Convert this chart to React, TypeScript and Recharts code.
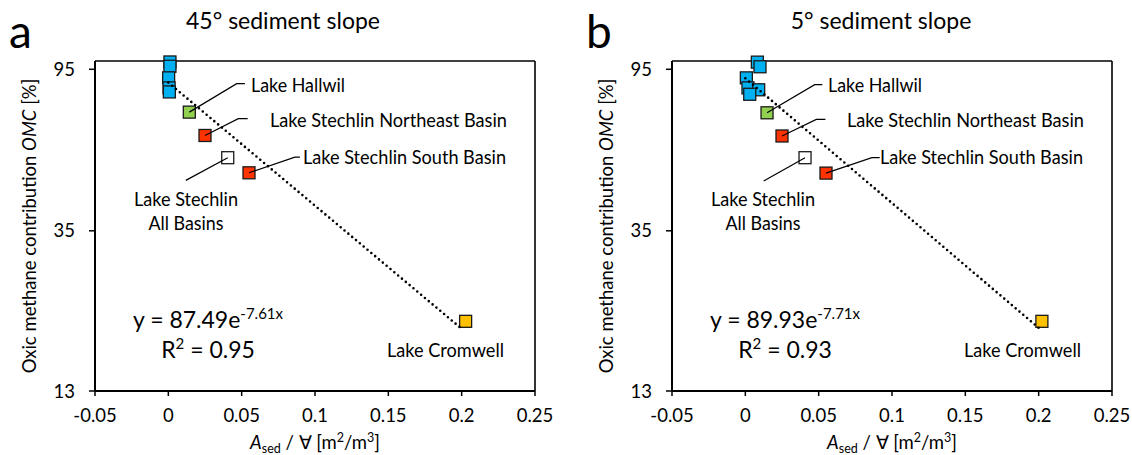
import { ScatterChart, Scatter, XAxis, YAxis, ReferenceLine } from "recharts";

const xTicks = [-0.05, 0, 0.05, 0.1, 0.15, 0.2, 0.25];
const yTicks = [13, 35, 95];

// panel a: 45° sediment slope
const aBlueX = [0.0011, 0.0011, 0.0002, 0.0005, 0.0007];
const aBlueY = [99.4, 96.8, 90.1, 84.7, 82.6];
const aGreenX = [0.0143];
const aGreenY = [72.9];
const aRedX = [0.025, 0.055];
const aRedY = [63.1, 50.1];
const aWhiteX = [0.0405];
const aWhiteY = [55.0];
const aYellowX = [0.2027];
const aYellowY = [20.0];
const aTrendX = [0, 0.2];
const aTrendY = [87.5, 19.1];

// panel b: 5° sediment slope
const bBlueX = [0.0082, 0.01, 0.0007, 0.0018, 0.0091, 0.003];
const bBlueY = [99.3, 96.5, 90.1, 84.7, 83.7, 81.4];
const bGreenX = [0.0148];
const bGreenY = [72.6];
const bRedX = [0.025, 0.055];
const bRedY = [62.9, 50.0];
const bWhiteX = [0.0407];
const bWhiteY = [55.0];
const bYellowX = [0.2022];
const bYellowY = [20.0];
const bTrendX = [0, 0.2];
const bTrendY = [89.9, 19.2];

// leader lines for the lake labels
const aLeaders = [
  { x: [0.0143, 0.0466, 0.0522], y: [72.9, 86.9, 86.9] },
  { x: [0.025, 0.0477, 0.0541], y: [63.1, 70.0, 70.0] },
  { x: [0.055, 0.0863, 0.0897], y: [50.1, 55.2, 55.2] },
  { x: [0.0405, 0.0119], y: [55.0, 47.8] },
];
const bLeaders = [
  { x: [0.0148, 0.0473, 0.0525], y: [72.6, 86.4, 86.4] },
  { x: [0.025, 0.0484, 0.0546], y: [62.9, 69.7, 69.7] },
  { x: [0.055, 0.0863, 0.0916], y: [50.0, 55.0, 55.0] },
  { x: [0.0407, 0.0125], y: [55.0, 47.6] },
];

const zip = (xs: number[], ys: number[]) => xs.map((x, i) => ({ x, y: ys[i] }));

const FONT = "Lato, 'Open Sans', sans-serif";

const square = (fill: string) => (p: any) => (
  <rect x={p.cx - 6} y={p.cy - 6} width={12} height={12} fill={fill} stroke="#1a1a1a" strokeWidth={1.3} />
);

const noShape = () => <g />;

type PanelProps = {
  left: number;
  letter: string;
  title: string;
  titleX: number;
  coef: string;
  expo: string;
  r2: string;
  series: { color: string; xs: number[]; ys: number[] }[];
  trend: { xs: number[]; ys: number[] };
  leaders: { x: number[]; y: number[] }[];
};

const Panel = ({ left, letter, title, titleX, coef, expo, r2, series, trend, leaders }: PanelProps) => (
  <div style={{ position: "absolute", left, top: 0, width: 566, height: 455 }}>
    <ScatterChart width={566} height={455} margin={{ top: 61, right: 31, bottom: 24, left: 0 }}>
      <XAxis
        type="number"
        dataKey="x"
        domain={[-0.05, 0.25]}
        ticks={xTicks}
        height={40}
        tickSize={5}
        tickMargin={13}
        axisLine={{ stroke: "#000", strokeWidth: 2 }}
        tickLine={{ stroke: "#000", strokeWidth: 1.5 }}
        tick={{ fontSize: 18.5, fill: "#000", fontFamily: FONT }}
      />
      <YAxis
        type="number"
        dataKey="y"
        scale="log"
        domain={[13, 100]}
        ticks={yTicks}
        width={95}
        tickSize={6}
        tickMargin={14}
        axisLine={{ stroke: "#000", strokeWidth: 2 }}
        tickLine={{ stroke: "#000", strokeWidth: 1.5 }}
        tick={{ fontSize: 18.5, fill: "#000", fontFamily: FONT }}
      />
      <ReferenceLine y={100} stroke="#000" strokeWidth={1.6} />
      <ReferenceLine x={0.25} stroke="#000" strokeWidth={1.6} />
      {series.map((s, i) => (
        <Scatter key={i} data={zip(s.xs, s.ys)} shape={square(s.color)} isAnimationActive={false} />
      ))}
      {leaders.map((l, i) => (
        <Scatter
          key={"l" + i}
          data={zip(l.x, l.y)}
          line={{ stroke: "#000", strokeWidth: 1.2 }}
          shape={noShape}
          isAnimationActive={false}
        />
      ))}
      <Scatter
        data={zip(trend.xs, trend.ys)}
        line={{ stroke: "#000", strokeWidth: 2.6, strokeDasharray: "0 5", strokeLinecap: "round" }}
        shape={noShape}
        isAnimationActive={false}
      />
    </ScatterChart>
    <svg
      width={566}
      height={455}
      style={{ position: "absolute", left: 0, top: 0, pointerEvents: "none", fontFamily: FONT }}
    >
      <text x={9} y={48} fontSize={46} fill="#000">{letter}</text>
      <text x={titleX} y={29} fontSize={23} textAnchor="middle" fill="#000">{title}</text>
      <g fontSize={18.5} fill="#000">
        <text x={251} y={92} textLength={94} lengthAdjust="spacingAndGlyphs">Lake Hallwil</text>
        <text x={270} y={126.5} textLength={237} lengthAdjust="spacingAndGlyphs">Lake Stechlin Northeast Basin</text>
        <text x={303} y={164} textLength={203} lengthAdjust="spacingAndGlyphs">Lake Stechlin South Basin</text>
        <text x={134} y={205.5} textLength={104} lengthAdjust="spacingAndGlyphs">Lake Stechlin</text>
        <text x={148.5} y={230} textLength={75} lengthAdjust="spacingAndGlyphs">All Basins</text>
        <text x={387} y={357} textLength={117} lengthAdjust="spacingAndGlyphs">Lake Cromwell</text>
      </g>
      <text x={208} y={328} fontSize={23} textAnchor="middle" fill="#000">
        {"y = " + coef + "e"}
        <tspan fontSize={15} dy={-9}>{expo}</tspan>
      </text>
      <text x={208} y={358} fontSize={23} textAnchor="middle" fill="#000">
        R<tspan fontSize={15} dy={-9}>2</tspan>
        <tspan dy={9}>{" = " + r2}</tspan>
      </text>
      <text x={315} y={449} fontSize={18.5} textAnchor="middle" fill="#000">
        <tspan fontStyle="italic">A</tspan>
        <tspan fontSize={12.5} dy={4}>sed</tspan>
        <tspan dy={-4}>{" / \u2200 [m"}</tspan>
        <tspan fontSize={12.5} dy={-7}>2</tspan>
        <tspan dy={7}>/m</tspan>
        <tspan fontSize={12.5} dy={-7}>3</tspan>
        <tspan dy={7}>]</tspan>
      </text>
      <text transform="rotate(-90)" x={-226} y={36} fontSize={18.5} textAnchor="middle" fill="#000">
        Oxic methane contribution <tspan fontStyle="italic">OMC</tspan> [%]
      </text>
    </svg>
  </div>
);

export default function App() {
  return (
    <div style={{ position: "absolute", left: 0, top: 0, width: 1132, height: 455, background: "#fff" }}>
      <Panel
        left={0}
        letter="a"
        title="45° sediment slope"
        titleX={283}
        coef="87.49"
        expo="-7.61x"
        r2="0.95"
        series={[
          { color: "#00B0F0", xs: aBlueX, ys: aBlueY },
          { color: "#92D050", xs: aGreenX, ys: aGreenY },
          { color: "#FF3300", xs: aRedX, ys: aRedY },
          { color: "#FFFFFF", xs: aWhiteX, ys: aWhiteY },
          { color: "#FFC000", xs: aYellowX, ys: aYellowY },
        ]}
        trend={{ xs: aTrendX, ys: aTrendY }}
        leaders={aLeaders}
      />
      <Panel
        left={577}
        letter="b"
        title="5° sediment slope"
        titleX={304}
        coef="89.93"
        expo="-7.71x"
        r2="0.93"
        series={[
          { color: "#00B0F0", xs: bBlueX, ys: bBlueY },
          { color: "#92D050", xs: bGreenX, ys: bGreenY },
          { color: "#FF3300", xs: bRedX, ys: bRedY },
          { color: "#FFFFFF", xs: bWhiteX, ys: bWhiteY },
          { color: "#FFC000", xs: bYellowX, ys: bYellowY },
        ]}
        trend={{ xs: bTrendX, ys: bTrendY }}
        leaders={bLeaders}
      />
    </div>
  );
}
